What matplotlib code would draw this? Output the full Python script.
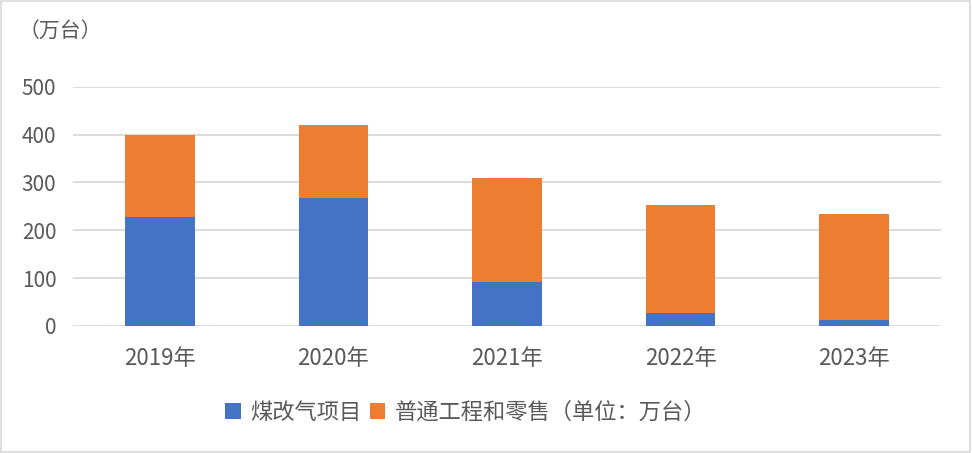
import matplotlib.pyplot as plt
from matplotlib.patches import Rectangle

plt.rcParams['font.family'] = ['Noto Sans CJK SC', 'DejaVu Sans']

years = ["2019年", "2020年", "2021年", "2022年", "2023年"]
coal_to_gas = [228, 268, 92, 27, 12]
retail = [172, 152, 218, 226, 222]
y_ticks = [0, 100, 200, 300, 400, 500]

blue = "#4472C4"
orange = "#ED7D31"
text_color = "#595959"

fig = plt.figure(figsize=(9.72, 4.53), dpi=100)
ax = fig.add_axes([0.0751, 0.2804, 0.893, 0.528])

x = range(len(years))
ax.bar(x, coal_to_gas, width=0.40, color=blue, label="煤改气项目", zorder=3)
ax.bar(x, retail, width=0.40, bottom=coal_to_gas, color=orange,
       label="普通工程和零售（单位：万台）", zorder=3)

ax.set_xlim(-0.5, len(years) - 0.5)
ax.set_ylim(0, 500)
ax.set_yticks(y_ticks)
ax.set_xticks(list(x))
ax.set_xticklabels(years)
ax.tick_params(axis="both", length=0, colors=text_color)
ax.tick_params(axis="y", pad=12, labelsize=15)
ax.tick_params(axis="x", pad=15, labelsize=16)
ax.yaxis.grid(True, color="#D9D9D9", linewidth=1.3, zorder=0)
for s in ax.spines.values():
    s.set_visible(False)

fig.text(0.019, 0.93, "（万台）", fontsize=15, color=text_color, va="center")

leg = fig.legend(loc="center", bbox_to_anchor=(0.479, 0.09), ncol=2, frameon=False,
                 fontsize=16, labelcolor=text_color, handlelength=0.7, handleheight=0.7,
                 handletextpad=0.4, columnspacing=0.4)

fig.patches.append(Rectangle((0.001, 0.002), 0.997, 0.995, transform=fig.transFigure,
                             fill=False, edgecolor="#D9D9D9", linewidth=1.2))

fig.savefig("out.png", dpi=100)
